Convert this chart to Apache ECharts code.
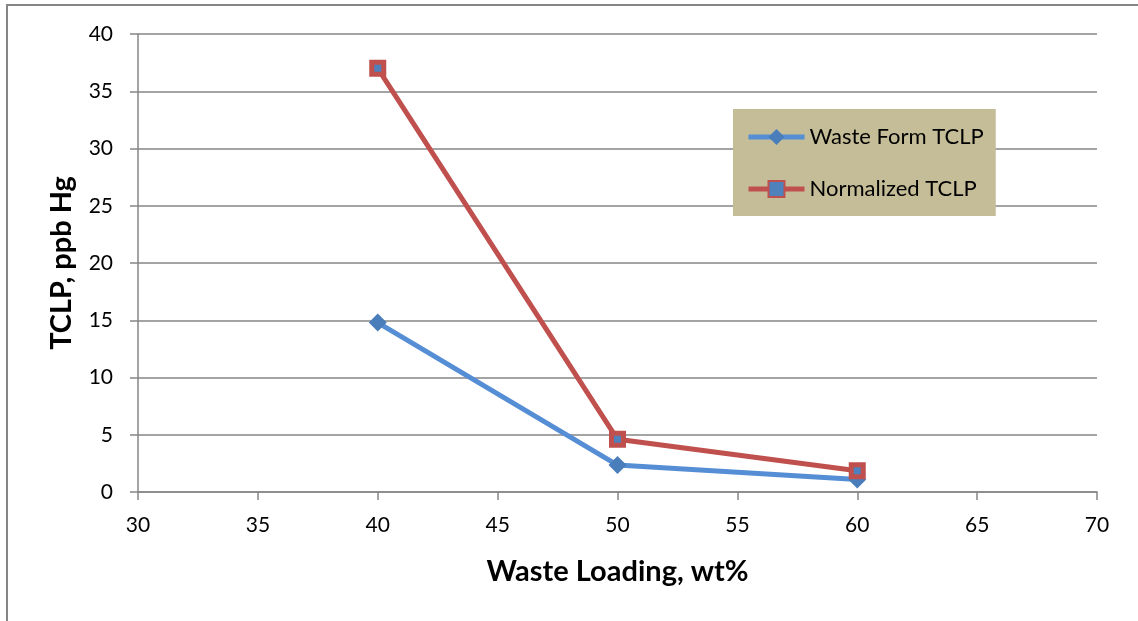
<!DOCTYPE html>
<html><head><meta charset="utf-8">
<script src="https://cdn.jsdelivr.net/npm/echarts@6/dist/echarts.min.js"></script>
<style>html,body{margin:0;padding:0;background:#fff}#c{width:1138px;height:621px}</style>
</head><body><div id="c"></div>
<script>
const loading = [40, 50, 60];
const wasteFormTCLP = [14.8, 2.35, 1.1];
const normalizedTCLP = [37.0, 4.6, 1.85];
const seriesNames = ['Waste Form TCLP', 'Normalized TCLP'];

const chart = echarts.init(document.getElementById('c'));
const font = 'Lato, "Open Sans", sans-serif';
const axisGray = '#868686';
chart.setOption({
  animation: false,
  backgroundColor: '#fff',
  graphic: [{type:'rect', shape:{x:7,y:5,width:1200,height:700}, style:{fill:'none', stroke:axisGray, lineWidth:2}, z:-1}],
  grid: {left:138, top:34, right:41, bottom:129},
  legend: {
    orient:'vertical', left:733, top:109, padding:[17,12,16,13],
    backgroundColor:'#C4BD97', itemWidth:56, itemHeight:20, itemGap:30,
    lineStyle:{width:5},
    textStyle:{fontFamily:font, fontSize:22, color:'#000', lineHeight:22},
    data: seriesNames
  },
  xAxis: {
    type:'value', min:30, max:70, interval:5,
    name:'Waste Loading, wt%', nameLocation:'middle', nameGap:65,
    nameTextStyle:{fontFamily:font, fontSize:29, fontWeight:'bold', color:'#000'},
    axisLine:{lineStyle:{color:axisGray, width:1.5}},
    axisTick:{show:true, length:8, lineStyle:{color:axisGray, width:1.5}},
    axisLabel:{fontFamily:font, fontSize:21, color:'#000', margin:23},
    splitLine:{show:false}
  },
  yAxis: {
    type:'value', min:0, max:40, interval:5,
    name:'TCLP, ppb Hg', nameLocation:'middle', nameGap:62, nameRotate:90,
    nameTextStyle:{fontFamily:font, fontSize:29, fontWeight:'bold', color:'#000'},
    axisLine:{show:true, lineStyle:{color:axisGray, width:1.5}},
    axisTick:{show:true, length:8, lineStyle:{color:axisGray, width:1.5}},
    axisLabel:{fontFamily:font, fontSize:21, color:'#000', margin:25},
    splitLine:{show:true, lineStyle:{color:axisGray, width:1.5}}
  },
  series: [
    {
      name: seriesNames[0], type:'line',
      data: loading.map((x,i)=>[x, wasteFormTCLP[i]]),
      symbol:'diamond', symbolSize:18, showAllSymbol:true,
      lineStyle:{color:'#558ED5', width:5},
      itemStyle:{color:'#4A7EBB'}
    },
    {
      name: seriesNames[1], type:'line',
      data: loading.map((x,i)=>[x, normalizedTCLP[i]]),
      symbol:'rect', symbolSize:12,
      lineStyle:{color:'#C0504D', width:5},
      itemStyle:{color:'#4F81BD', borderColor:'#C0504D', borderWidth:5}
    }
  ]
});
</script></body></html>
